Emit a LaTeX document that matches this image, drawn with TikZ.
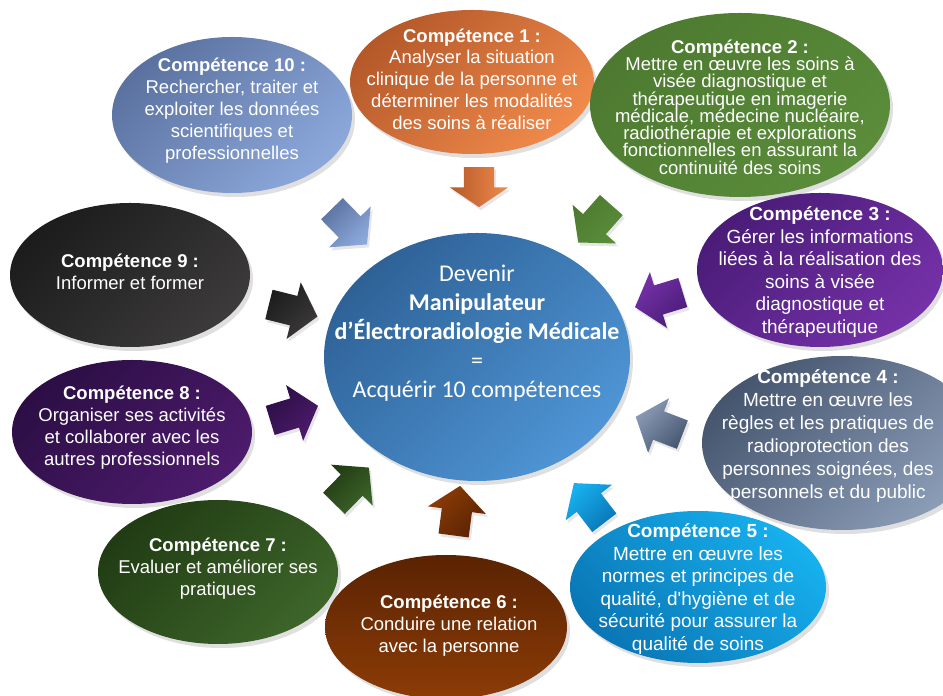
\documentclass[tikz,border=0pt]{standalone}
\usepackage{fontspec}
\setmainfont{Liberation Sans}
\newfontfamily\calibri{Carlito}
\usetikzlibrary{shapes.geometric, shapes.arrows, shadows}

\definecolor{orangeA}{HTML}{B5592A}
\definecolor{orangeB}{HTML}{F08A4B}
\definecolor{vertA}{HTML}{4D7A30}
\definecolor{vertB}{HTML}{5A8C3A}
\definecolor{violetA}{HTML}{4A1C78}
\definecolor{violetB}{HTML}{7531A8}
\definecolor{ardoiseA}{HTML}{46566F}
\definecolor{ardoiseB}{HTML}{8C9DB8}
\definecolor{cyanA}{HTML}{17B0EE}
\definecolor{cyanB}{HTML}{0A76B5}
\definecolor{brunA}{HTML}{5A2303}
\definecolor{brunB}{HTML}{8C3C06}
\definecolor{foretA}{HTML}{213C14}
\definecolor{foretB}{HTML}{3D6529}
\definecolor{pruneA}{HTML}{2C0E45}
\definecolor{pruneB}{HTML}{4D1B6C}
\definecolor{noirA}{HTML}{1C1C1C}
\definecolor{noirB}{HTML}{3C3A3A}
\definecolor{cielA}{HTML}{5B72A0}
\definecolor{cielB}{HTML}{8CA8DB}
\definecolor{centreA}{HTML}{2E6297}
\definecolor{centreB}{HTML}{4F95D5}

\begin{document}
\lineskiplimit=-100pt
\begin{tikzpicture}[
    x=1pt, y=1pt,
    every node/.style={inner sep=0pt, text=white},
    grad/.style 2 args={top color=#1, bottom color=#2, shading angle=45},
    bulle/.style={
            ellipse,
            drop shadow={shadow xshift=3pt, shadow yshift=-4pt, opacity=0.25}
        },
    texte/.style={align=center, font=\fontsize{18.5}{22}\selectfont},
    fleche/.style={
            single arrow,
            minimum height=50pt,
            single arrow head extend=14pt,
            single arrow tip angle=100,
            drop shadow={shadow xshift=2pt, shadow yshift=-3pt, opacity=0.2}
        },
    ]
    \useasboundingbox (0,0) rectangle (943,696);

    % --- Centre ---
    \node (centre) [bulle, grad={centreA}{centreB}, minimum width=306pt, minimum height=248pt] at (477,339) {};
    \node (centre_txt) [align=center, font=\calibri\fontsize{24}{29}\selectfont]
        at ([yshift=24pt]centre.center)
        {Devenir\\ \textbf{Manipulateur}\\ \textbf{d’Électroradiologie Médicale}\\ =\\ Acquérir 10 compétences};

    % --- Compétences ---
    \node (comp1) [bulle, grad={orangeA}{orangeB}, minimum width=244pt, minimum height=144pt] at (472,614) {};
    \node (comp1_txt) [texte, font=\fontsize{18.5}{21.7}\selectfont] at (472,617)
        {\textbf{Compétence 1 :}\\ Analyser la situation\\ clinique de la personne et\\ déterminer les modalités\\ des soins à réaliser};

    \node (comp3) [bulle, grad={violetA}{violetB}, minimum width=246pt, minimum height=154pt] at (820,426) {};
    \node (comp3_txt) [texte, font=\fontsize{19}{22.6}\selectfont] at (820,424)
        {\textbf{Compétence 3 :}\\ Gérer les informations\\ liées à la réalisation des\\ soins à visée\\ diagnostique et\\ thérapeutique};

    \node (comp2) [bulle, grad={vertA}{vertB}, minimum width=300pt, minimum height=184pt] at (740,591) {};
    \node (comp2_txt) [texte, font=\fontsize{18.5}{17.3}\selectfont] at (740,589)
        {\textbf{Compétence 2 :}\\ Mettre en œuvre les soins à\\ visée diagnostique et\\ thérapeutique en imagerie\\ médicale, médecine nucléaire,\\ radiothérapie et explorations\\ fonctionnelles en assurant la\\ continuité des soins};

    \node (comp5) [bulle, grad={cyanA}{cyanB}, shading angle=-45, minimum width=256pt, minimum height=152pt] at (698,109) {};
    \node (comp5_txt) [texte, font=\fontsize{19}{22.6}\selectfont] at (698,107)
        {\textbf{Compétence 5 :}\\ Mettre en œuvre les\\ normes et principes de\\ qualité, d\textquotesingle hygiène et de\\ sécurité pour assurer la\\ qualité de soins};

    \node (comp4) [bulle, grad={ardoiseA}{ardoiseB}, minimum width=280pt, minimum height=174pt] at (842,253) {};
    \node (comp4_txt) [texte, font=\fontsize{19}{23}\selectfont] at (828,260)
        {\textbf{Compétence 4 :}\\ Mettre en œuvre les\\ règles et les pratiques de\\ radioprotection des\\ personnes soignées, des\\ personnels et du public};

    \node (comp6) [bulle, grad={brunA}{brunB}, shading angle=0, minimum width=242pt, minimum height=144pt] at (446,69) {};
    \node (comp6_txt) [texte] at (449,70)
        {\textbf{Compétence 6 :}\\ Conduire une relation\\ avec la personne};

    \node (comp7) [bulle, grad={foretA}{foretB}, minimum width=240pt, minimum height=144pt] at (218,124) {};
    \node (comp7_txt) [texte] at (218,127)
        {\textbf{Compétence 7 :}\\ Evaluer et améliorer ses\\ pratiques};

    \node (comp8) [bulle, grad={pruneA}{pruneB}, minimum width=240pt, minimum height=144pt] at (132,264) {};
    \node (comp8_txt) [texte] at (132,268)
        {\textbf{Compétence 8 :}\\ Organiser ses activités\\ et collaborer avec les\\ autres professionnels};

    \node (comp9) [bulle, grad={noirA}{noirB}, minimum width=240pt, minimum height=144pt] at (130,421) {};
    \node (comp9_txt) [texte] at (130,424)
        {\textbf{Compétence 9 :}\\ Informer et former};

    \node (comp10) [bulle, grad={cielA}{cielB}, minimum width=240pt, minimum height=156pt] at (232,581) {};
    \node (comp10_txt) [texte] at (232,585)
        {\textbf{Compétence 10 :}\\ Rechercher, traiter et\\ exploiter les données\\ scientifiques et\\ professionnelles};

    % --- Flèches vers le centre ---
    \node (fl1) [fleche, grad={orangeA}{orangeB}, shading angle=90, rotate=-90,
        minimum height=40pt, single arrow tip angle=112] at (479,514) {\rule{0pt}{30pt}};
    \node (fl2) [fleche, grad={vertA}{vertB}, rotate=-131.5] at (599,477) {\rule{0pt}{30pt}};
    \node (fl3) [fleche, grad={violetB}{violetA}, rotate=197] at (665,398) {\rule{0pt}{30pt}};
    \node (fl4) [fleche, grad={ardoiseB}{ardoiseA}, rotate=159] at (665,268) {\rule{0pt}{30pt}};
    \node (fl5) [fleche, grad={cyanA}{cyanB}, rotate=127.5] at (593,188) {\rule{0pt}{30pt}};
    \node (fl6) [fleche, grad={brunB}{brunA}, rotate=82.5] at (456,179) {\rule{0pt}{30pt}};
    \node (fl7) [fleche, grad={foretA}{foretB}, rotate=45.6] at (347,206) {\rule{0pt}{30pt}};
    \node (fl8) [fleche, grad={pruneA}{pruneB}, rotate=17] at (288,281) {\rule{0pt}{30pt}};
    \node (fl9) [fleche, grad={noirA}{noirB}, rotate=-14] at (287,387) {\rule{0pt}{30pt}};
    \node (fl10) [fleche, grad={cielA}{cielB}, rotate=-45.6] at (345,474) {\rule{0pt}{30pt}};

\end{tikzpicture}
\end{document}
